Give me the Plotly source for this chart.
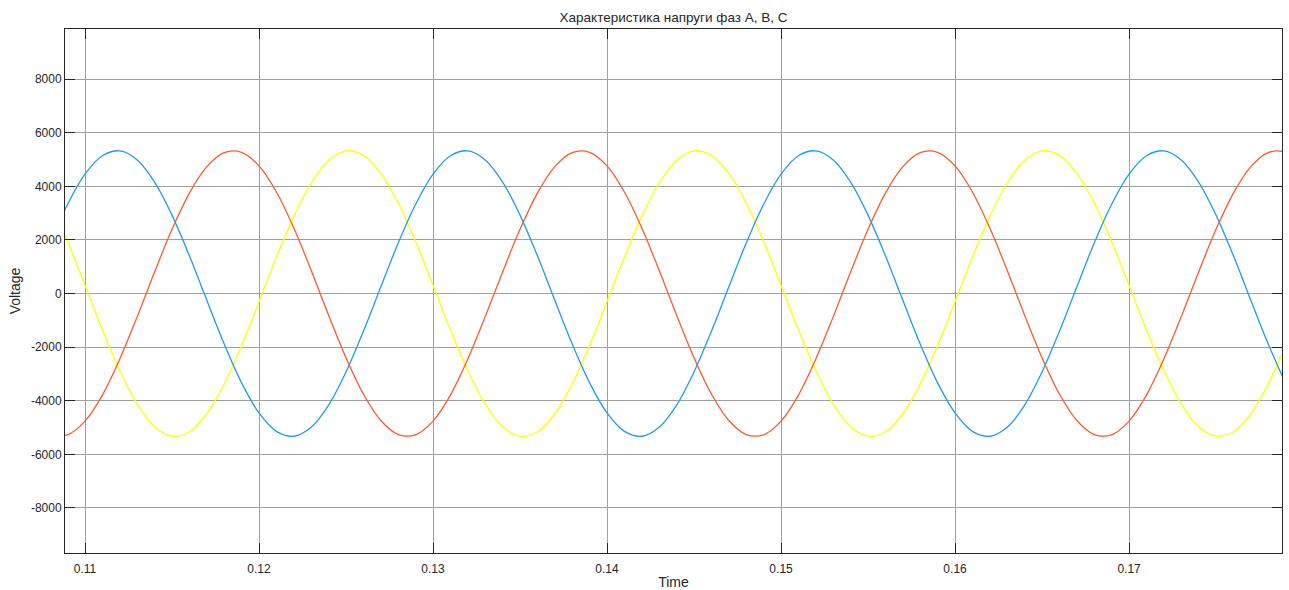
import plotly.graph_objects as go

# Time samples (s), step 1 ms
time = [round(0.108 + 0.001 * i, 3) for i in range(73)]

phase_blue = [1884,
    3332, 4455, 5141, 5324, 4986, 4160, 2926, 1407, -251, -1884,
    -3332, -4455, -5141, -5324, -4986, -4160, -2926, -1407, 251, 1884,
    3332, 4455, 5141, 5324, 4986, 4160, 2926, 1407, -251, -1884,
    -3332, -4455, -5141, -5324, -4986, -4160, -2926, -1407, 251, 1884,
    3332, 4455, 5141, 5324, 4986, 4160, 2926, 1407, -251, -1884,
    -3332, -4455, -5141, -5324, -4986, -4160, -2926, -1407, 251, 1884,
    3332, 4455, 5141, 5324, 4986, 4160, 2926, 1407, -251, -1884,
    -3332, -4455]

phase_orange = [-5260,
    -5269, -4762, -3789, -2444, -861, 806, 2395, 3749, 4736, 5260,
    5269, 4762, 3789, 2444, 861, -806, -2395, -3749, -4736, -5260,
    -5269, -4762, -3789, -2444, -861, 806, 2395, 3749, 4736, 5260,
    5269, 4762, 3789, 2444, 861, -806, -2395, -3749, -4736, -5260,
    -5269, -4762, -3789, -2444, -861, 806, 2395, 3749, 4736, 5260,
    5269, 4762, 3789, 2444, 861, -806, -2395, -3749, -4736, -5260,
    -5269, -4762, -3789, -2444, -861, 806, 2395, 3749, 4736, 5260,
    5269, 4762]

phase_yellow = [3376,
    1936, 307, -1353, -2879, -4124, -4966, -5321, -5156, -4485, -3376,
    -1936, -307, 1353, 2879, 4124, 4966, 5321, 5156, 4485, 3376,
    1936, 307, -1353, -2879, -4124, -4966, -5321, -5156, -4485, -3376,
    -1936, -307, 1353, 2879, 4124, 4966, 5321, 5156, 4485, 3376,
    1936, 307, -1353, -2879, -4124, -4966, -5321, -5156, -4485, -3376,
    -1936, -307, 1353, 2879, 4124, 4966, 5321, 5156, 4485, 3376,
    1936, 307, -1353, -2879, -4124, -4966, -5321, -5156, -4485, -3376,
    -1936, -307]

x_ticks = [0.11, 0.12, 0.13, 0.14, 0.15, 0.16, 0.17]
x_tick_labels = ["0.11", "0.12", "0.13", "0.14", "0.15", "0.16", "0.17"]
y_ticks = [-8000, -6000, -4000, -2000, 0, 2000, 4000, 6000, 8000]
y_tick_labels = ["-8000", "-6000", "-4000", "-2000", "0", "2000", "4000", "6000", "8000"]

fig = go.Figure()
for name, vals, color in [
    ("A", phase_yellow, "#FFFF00"),
    ("B", phase_blue, "#1E9BF0"),
    ("C", phase_orange, "#FF5A28"),
]:
    fig.add_trace(go.Scatter(x=time, y=vals, mode="lines", name=name,
                             line=dict(color=color, width=1.3, shape="spline", smoothing=1.0)))

axis_common = dict(
    showline=True, linecolor="#262626", linewidth=1, mirror="ticks",
    ticks="inside", ticklen=10, tickcolor="#262626", tickwidth=1,
    showgrid=True, gridcolor="#a0a0a0", gridwidth=1, zeroline=False,
    automargin=False,
    tickfont=dict(family="Liberation Sans, Arial, sans-serif", size=12, color="#262626"),
)

fig.update_layout(
    width=1289, height=590,
    margin=dict(l=65, r=7, t=29, b=37),
    paper_bgcolor="white", plot_bgcolor="white",
    showlegend=False,
    font=dict(family="Liberation Sans, Arial, sans-serif", size=12, color="#262626"),
    title=dict(text="Характеристика напруги фаз A, B, C", x=0.5225, xanchor="center",
               y=0.97, yanchor="middle", font=dict(size=13.5, color="#262626")),
    xaxis=dict(range=[0.10885, 0.17879], tickvals=x_ticks, ticktext=x_tick_labels,
               ticklabelstandoff=5,
               title=dict(text="Time", standoff=8), **axis_common),
    yaxis=dict(range=[-9680, 9870], tickvals=y_ticks, ticktext=y_tick_labels,
               title=dict(text="Voltage", standoff=6), **axis_common),
)

fig.write_html("out.html")
